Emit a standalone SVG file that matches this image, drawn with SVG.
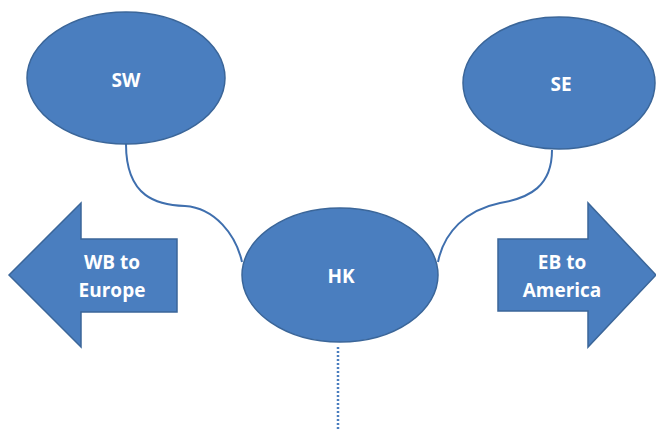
<svg xmlns="http://www.w3.org/2000/svg" width="656" height="431" viewBox="0 0 656 431">
<style>
.shape{fill:#4a7ebf;stroke:#3b6699;stroke-width:1.5}
.lbl{fill:#ffffff;font-family:"Open Sans","Liberation Sans",sans-serif;font-weight:bold;font-size:19px;text-anchor:middle}
.conn{fill:none;stroke:#3f6fae;stroke-width:2}
</style>
<rect width="656" height="431" fill="#ffffff"/>
<g id="connectors">
<path class="conn" d="M126,144 C126,198 158,205 185,206 C215,208 236,235 242,262"/>
<path class="conn" d="M552,150 C552,186 530,198 500,203 C466,210 444,232 438,262"/>
<line x1="338" y1="347" x2="338" y2="431" stroke="#4a7ebf" stroke-width="2.5" stroke-dasharray="2,2"/>
</g>
<g id="SW">
<ellipse class="shape" cx="126" cy="78" rx="99" ry="66"/>
<text class="lbl" x="126" y="87">SW</text>
</g>
<g id="SE">
<ellipse class="shape" cx="559" cy="83" rx="96" ry="66"/>
<text class="lbl" x="561" y="91">SE</text>
</g>
<g id="HK">
<ellipse class="shape" cx="340" cy="275" rx="98" ry="67"/>
<text class="lbl" x="341" y="283">HK</text>
</g>
<g id="WB">
<polygon class="shape" points="9,275 81,203 81,239 177,239 177,312 81,312 81,347"/>
<text class="lbl" x="112" y="269">WB to</text>
<text class="lbl" x="112" y="297">Europe</text>
</g>
<g id="EB">
<polygon class="shape" points="498,239 588,239 588,203 656,275 588,347 588,311 498,311"/>
<text class="lbl" x="562" y="269">EB to</text>
<text class="lbl" x="562" y="297">America</text>
</g>
</svg>
